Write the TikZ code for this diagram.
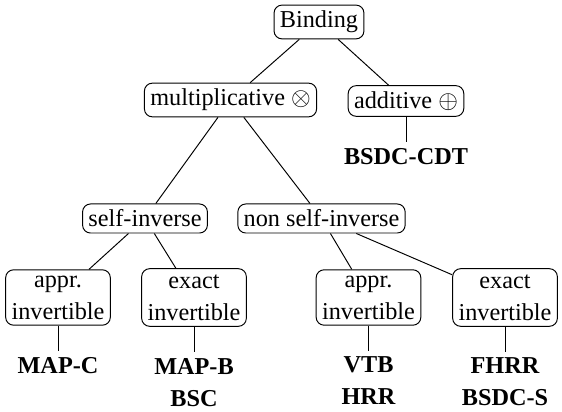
\documentclass[tikz,border=0pt]{standalone}
\usepackage{fontspec}
\setmainfont{Liberation Serif}
\usetikzlibrary{positioning}
\newcommand{\treefont}{\fontsize{13.8}{18.2}\selectfont\rmfamily}
\tikzset{
  cat/.style={draw, rounded corners=4.5pt, align=center, font=\treefont},
  leaf/.style={font=\treefont\bfseries, align=center},
}
\begin{document}
\begin{tikzpicture}[line width=0.55pt]
      \useasboundingbox (0,0) rectangle (11.24,-8.24);
      \foreach \n/\x/\y/\t in {bind/6.38/-0.44/Binding, mult/4.61/-2.0/{multiplicative $\otimes$},
          add/8.12/-2.02/{additive $\oplus$}, self/2.9/-4.37/self-inverse,
          nself/6.43/-4.37/non self-inverse, apprA/1.16/-5.95/{appr.\\invertible},
          exactA/3.88/-5.95/{exact\\invertible}, apprB/7.37/-5.95/{appr.\\invertible},
          exactB/10.1/-5.95/{exact\\invertible}}{
        \node[cat] (\n) at(\x,\y) {\t};
      }
      \foreach \a/\b in {bind/mult, bind/add, mult/self, mult/nself,
          self/apprA, self/exactA, nself/apprB, nself/exactB}{
        \draw (\a) -- (\b);
      }
      \foreach \a/\t in {add/BSDC-CDT, apprA/MAP-C, exactA/{MAP-B\\BSC},
          apprB/{VTB\\HRR}, exactB/{FHRR\\BSDC-S}}{
        \node[leaf, below=0.5cm of \a] (L\a) {\t};
        \draw (\a) -- (L\a);
      }
    \end{tikzpicture}
\end{document}
